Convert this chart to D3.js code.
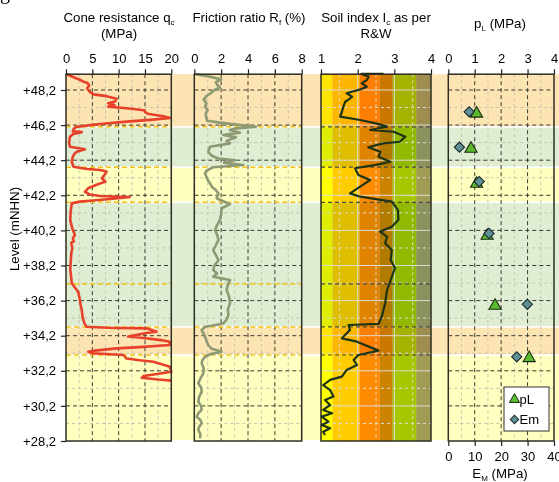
<!DOCTYPE html>
<html><head><meta charset="utf-8">
<script src="https://cdn.jsdelivr.net/npm/d3@7"></script>
<style>
body{margin:0;background:#fff}
svg{display:block;font-family:"Liberation Sans",Arial,sans-serif}
</style>
</head><body>
<svg id="c" width="559" height="482"></svg>
<script>
// ---------------- DATA ----------------
const levelTicks = [48.2, 46.2, 44.2, 42.2, 40.2, 38.2, 36.2, 34.2, 32.2, 30.2, 28.2];
const levelMinor = [47.2, 45.2, 43.2, 41.2, 39.2, 37.2, 35.2, 33.2, 31.2, 29.2];
const qcTicks = [0, 5, 10, 15, 20];
const rfTicks = [0, 2, 4, 6, 8];
const icTicks = [1, 2, 3, 4];
const plTicks = [0, 1, 2, 3, 4];
const emTicks = [0, 10, 20, 30, 40];

// soil layers (background bands)
const bandTop    = [49.1, 46.1, 43.8, 41.8, 34.7, 33.1];
const bandBottom = [46.1, 43.8, 41.8, 34.7, 33.1, 28.2];
const bandKind   = ["sand", "clay", "silt", "clay", "sand", "silt"];
const layerBoundaries = [46.1, 43.8, 41.8, 37.15, 34.7, 33.1];

// Robertson & Wride Ic zones
const icZoneBounds = [1, 1.31, 2.05, 2.60, 2.95, 3.60, 4.0];

const qcLevel = [49.1,48.8,48.65,48.6,48.45,48.3,48.1,47.95,47.85,47.7,47.55,47.45,47.35,47.25,47.15,47.05,46.95,46.85,46.7,46.6,46.5,46.4,46.25,46.1,46.0,45.85,45.8,45.7,45.54,45.2,44.97,44.82,44.7,44.6,44.4,44.12,43.83,43.7,43.64,43.55,43.4,43.17,42.98,42.8,42.6,42.4,42.25,42.16,42.12,42.1,42.0,41.9,41.84,41.74,41.3,40.8,40.3,39.94,39.75,39.57,39.5,39.2,38.9,38.4,37.95,37.5,37.19,36.9,36.7,36.45,36.2,35.9,35.66,35.4,35.19,34.9,34.71,34.65,34.62,34.5,34.43,34.35,34.2,34.15,34.07,33.95,33.86,33.67,33.55,33.48,33.35,33.29,33.2,33.1,32.9,32.8,32.72,32.55,32.43,32.15,32.0,31.9,31.8,31.7,31.64];
const qcValue = [0.1,2.5,3.5,4.1,4.4,4.0,4.5,5.2,7.7,9.6,9.3,8.0,9.2,8.0,12.0,14.8,15.0,15.5,18.5,19.8,16.0,11.5,6.0,2.0,1.5,1.3,3.0,1.4,0.75,0.6,0.75,3.6,2.2,1.7,1.3,1.1,1.4,4.0,6.45,7.7,7.4,6.8,7.5,5.8,4.2,3.6,4.5,6.45,10.2,12.1,9.0,5.0,2.65,1.1,0.9,0.8,1.2,1.7,1.3,1.5,1.0,1.2,1.0,0.9,0.8,1.0,1.1,1.8,2.3,2.5,2.65,2.8,3.0,3.1,3.2,3.5,3.9,8.0,15.3,16.5,17.2,15.3,12.5,11.8,14.7,18.0,19.7,19.7,14.0,9.6,5.5,4.2,4.9,10.9,11.5,14.0,16.6,18.5,19.7,20.0,17.0,14.7,14.4,17.5,20.0];

const rfLevel = [49.1,48.95,48.8,48.65,48.5,48.35,48.2,48.0,47.85,47.65,47.45,47.25,47.05,46.85,46.6,46.45,46.34,46.2,46.11,46.0,45.92,45.77,45.64,45.5,45.3,45.16,44.97,44.68,44.45,44.3,44.2,44.06,43.93,43.8,43.6,43.45,43.25,43.07,42.85,42.69,42.5,42.31,42.15,42.03,41.85,41.7,41.46,41.1,40.8,40.5,40.22,39.95,39.65,39.35,39.08,38.8,38.5,38.2,37.94,37.75,37.56,37.37,37.1,36.8,36.4,36.05,35.7,35.38,35.1,34.9,34.75,34.71,34.52,34.3,34.15,33.9,33.67,33.45,33.29,33.15,33.0,32.8,32.63,32.35,32.06,31.75,31.49,31.25,31.0,30.7,30.44,30.2,29.97,29.78,29.58,29.4,29.21,29.0,28.83,28.6,28.35];
const rfValue = [0.1,1.2,2.0,1.6,1.7,1.9,1.5,1.2,0.9,0.7,0.9,0.8,1.0,0.85,0.9,0.95,1.9,3.5,4.6,3.0,2.66,3.4,2.16,3.1,2.4,2.66,1.17,1.04,1.3,1.79,3.03,2.2,3.65,1.41,0.9,0.8,0.9,1.0,1.2,1.3,1.6,1.79,1.7,1.67,2.2,2.66,2.04,2.0,1.9,1.7,1.54,1.7,1.8,1.6,1.41,1.6,1.8,1.5,1.41,1.7,1.41,2.66,2.5,2.41,2.6,2.66,2.5,2.54,2.4,2.16,1.2,0.8,0.55,0.7,0.8,0.9,1.04,1.3,2.04,1.2,0.8,0.6,0.55,0.7,0.67,0.45,0.3,0.5,0.55,0.35,0.3,0.5,0.55,0.3,0.18,0.45,0.55,0.35,0.3,0.45,0.43];

const icLevel = [49.12,49.12,48.96,48.77,48.58,48.39,48.25,48.1,48.01,47.82,47.65,47.53,47.25,46.96,46.68,46.49,46.3,46.11,45.92,45.82,45.54,45.25,45.16,44.94,44.68,44.4,44.11,43.93,43.74,43.36,43.07,42.69,42.31,42.12,41.84,41.36,40.79,40.41,40.13,39.84,39.46,39.08,38.51,38.04,37.85,37.37,36.8,36.05,35.29,34.87,34.81,34.52,34.05,33.86,33.35,33.1,32.82,32.53,32.25,31.87,31.68,31.39,31.1,30.73,30.54,30.25,29.97,29.78,29.59,29.3,29.11,28.92,28.73,28.54];
const icValue = [2.71,2.1,2.3,2.25,2.11,2.25,2.1,1.84,1.70,1.85,1.75,1.66,1.61,1.57,1.52,2.07,2.5,2.8,2.34,2.98,3.3,3.15,2.7,2.29,2.62,2.57,2.89,2.5,1.93,2.02,2.34,2.07,1.79,2.07,2.93,3.1,3.11,2.93,2.61,2.8,2.75,2.93,2.9,3.02,2.98,2.9,2.8,2.75,2.66,2.57,1.75,1.79,1.57,1.98,2.57,2.02,1.89,1.98,1.70,1.57,1.25,1.06,1.25,1.34,1.11,1.25,1.06,1.3,1.02,1.2,1.02,1.25,1.06,1.11];

const pLLevel = [46.9, 44.9, 42.9, 39.94, 35.95, 32.97];
const pLValue = [1.07, 0.86, 1.07, 1.47, 1.77, 3.06];
const emLevel = [46.96, 44.94, 42.98, 40.03, 35.99, 33.0];
const emValue = [7.9, 4.2, 11.7, 15.4, 29.9, 25.9];

// ---------------- DRAWING ----------------
const svg = d3.select("#c");
const FS = 13;
const yTop = 74.2, yBot = 441;
const y = d3.scaleLinear().domain([49.1, 28.2]).range([yTop, yBot]);
const xq = d3.scaleLinear().domain([0, 20]).range([66, 171.3]);
const xr = d3.scaleLinear().domain([0, 8]).range([194.3, 301.7]);
const xi = d3.scaleLinear().domain([1, 4]).range([321, 431]);
const xp = d3.scaleLinear().domain([0, 4]).range([448.3, 554]);
const xe = d3.scaleLinear().domain([0, 40]).range([448.3, 554]);

const bandColor = {sand: "#fde5b3", clay: "#dfeed3", silt: "#ffffbf"};
const zoneColor = ["#ffff00", "#ffcc00", "#ff8c00", "#cc8400", "#a6c600", "#a09c70"];

// partial letter at the corner
svg.append("text").attr("x", 0).attr("y", -1).attr("font-family", "Liberation Serif")
  .attr("font-size", 20).text("g");

// bands
const bands = d3.range(bandTop.length).map(i => ({t: bandTop[i], b: bandBottom[i], k: bandKind[i]}));
svg.append("g").selectAll("rect").data(bands).join("rect")
  .attr("x", 66).attr("width", 559 - 66)
  .attr("y", d => y(d.t) + (d.t < 49 ? 0.8 : 0))
  .attr("height", d => y(d.b) - y(d.t) - (d.t < 49 ? 0.8 : 0) - 0.8)
  .attr("fill", d => bandColor[d.k]);

// Ic zones (multiplied over bands)
const zones = d3.range(icZoneBounds.length - 1).map(i => ({a: icZoneBounds[i], b: icZoneBounds[i + 1], c: zoneColor[i]}));
svg.append("g").selectAll("rect").data(zones).join("rect")
  .attr("x", d => xi(d.a)).attr("width", d => xi(d.b) - xi(d.a))
  .attr("y", yTop).attr("height", yBot - yTop)
  .attr("fill", d => d.c).style("mix-blend-mode", "multiply");

function grid(xs, vMajor, vMinor, majCol, minCol, solidMajor) {
  const g = svg.append("g");
  const [x0, x1] = xs.range();
  g.selectAll(".hm").data(levelMinor).join("line").attr("class", "hm")
    .attr("x1", x0).attr("x2", x1).attr("y1", d => y(d)).attr("y2", d => y(d))
    .attr("stroke", minCol).attr("stroke-dasharray", "3,3").attr("stroke-width", 1);
  g.selectAll(".vm").data(vMinor).join("line").attr("class", "vm")
    .attr("x1", d => xs(d)).attr("x2", d => xs(d)).attr("y1", yTop).attr("y2", yBot)
    .attr("stroke", minCol).attr("stroke-dasharray", "3,3").attr("stroke-width", 1);
  g.selectAll(".hM").data(levelTicks.slice(0, -1)).join("line").attr("class", "hM")
    .attr("x1", x0).attr("x2", x1).attr("y1", d => y(d)).attr("y2", d => y(d))
    .attr("stroke", majCol).attr("stroke-dasharray", solidMajor ? null : "4,3").attr("stroke-width", 1);
  g.selectAll(".vM").data(vMajor).join("line").attr("class", "vM")
    .attr("x1", d => xs(d)).attr("x2", d => xs(d)).attr("y1", yTop).attr("y2", yBot)
    .attr("stroke", majCol).attr("stroke-dasharray", solidMajor ? null : "4,3").attr("stroke-width", 1);
}
grid(xq, [5, 10, 15], [2.5, 7.5, 12.5, 17.5], "#3a3a30", "#c8c4b0", false);
grid(xr, [2, 4, 6], [1, 3, 5, 7], "#3a3a30", "#c8c4b0", false);
grid(xi, [2, 3], [1.5, 2.5, 3.5], "#dcdcd0", "#dcdcd0", true);
grid(xp, [1, 2, 3], [0.5, 1.5, 2.5, 3.5], "#3a3a30", "#c8c4b0", false);

// layer boundary lines
[xq, xr].forEach(xs => {
  svg.append("g").selectAll("line").data(layerBoundaries).join("line")
    .attr("x1", xs.range()[0]).attr("x2", xs.range()[1])
    .attr("y1", d => y(d)).attr("y2", d => y(d))
    .attr("stroke", "#f2c418").attr("stroke-width", 1.5).attr("stroke-dasharray", "5,3");
});
svg.append("g").selectAll("line").data(layerBoundaries).join("line")
  .attr("x1", xi.range()[0]).attr("x2", xi.range()[1])
  .attr("y1", d => y(d)).attr("y2", d => y(d))
  .attr("stroke", "#4a4a40").attr("stroke-width", 1.2).attr("stroke-dasharray", "4,3");

// curves
const line = (xs) => d3.line().x(d => xs(d[1])).y(d => y(d[0]));
svg.append("path").datum(d3.zip(rfLevel, rfValue)).attr("d", line(xr))
  .attr("fill", "none").attr("stroke", "#8e9a74").attr("stroke-width", 2.6).attr("stroke-linejoin", "round");
svg.append("path").datum(d3.zip(qcLevel, qcValue)).attr("d", line(xq))
  .attr("fill", "none").attr("stroke", "#e8412b").attr("stroke-width", 2.6).attr("stroke-linejoin", "round");
svg.append("path").datum(d3.zip(icLevel, icValue)).attr("d", line(xi))
  .attr("fill", "none").attr("stroke", "#1f3315").attr("stroke-width", 2.2).attr("stroke-linejoin", "round");

// frames
[xq, xr, xi, xp].forEach(xs => {
  svg.append("rect").attr("x", xs.range()[0]).attr("y", yTop)
    .attr("width", xs.range()[1] - xs.range()[0]).attr("height", yBot - yTop)
    .attr("fill", "none").attr("stroke", "#2e2e22").attr("stroke-width", 1.5);
});

// axes
function styleAxis(g) {
  g.select(".domain").remove();
  g.selectAll(".tick line").attr("stroke", "#222").attr("stroke-width", 1.2);
  g.selectAll(".tick text").attr("font-size", FS).attr("fill", "#000")
    .attr("font-family", "Liberation Sans, Arial, sans-serif");
}
[[xq, qcTicks], [xr, rfTicks], [xi, icTicks], [xp, plTicks]].forEach(([xs, tv]) => {
  svg.append("g").attr("transform", `translate(0,${yTop})`)
    .call(d3.axisTop(xs).tickValues(tv).tickSize(5).tickPadding(6).tickFormat(d3.format("d")))
    .call(styleAxis);
});
svg.append("g").attr("transform", `translate(0,${yBot})`)
  .call(d3.axisBottom(xe).tickValues(emTicks).tickSize(5).tickPadding(6).tickFormat(d3.format("d")))
  .call(styleAxis);
svg.append("g").attr("transform", `translate(66,0)`)
  .call(d3.axisLeft(y).tickValues(levelTicks).tickSize(5).tickPadding(5)
    .tickFormat(d => "+" + d.toFixed(1).replace(".", ",")))
  .call(styleAxis);

// titles
function title(x, yy, parts) {
  const t = svg.append("text").attr("x", x).attr("y", yy).attr("text-anchor", "middle")
    .attr("font-size", 13.3).attr("fill", "#000");
  parts.forEach(p => {
    const s = t.append("tspan").text(p[0]);
    if (p[1]) s.attr("font-size", 8).attr("dy", 3);
    else if (p[2]) s.attr("dy", -3);
  });
}
title(119, 21.5, [["Cone resistance q"], ["c", 1], ["", 0, 1]]);
title(119, 37.5, [["(MPa)"]]);
title(249, 21.5, [["Friction ratio R"], ["f", 1], [" (%)", 0, 1]]);
title(376, 21.5, [["Soil index I"], ["c", 1], [" as per", 0, 1]]);
title(376, 37.5, [["R&W"]]);
title(500, 28, [["p"], ["L", 1], [" (MPa)", 0, 1]]);
title(500, 478, [["E"], ["M", 1], [" (MPa)", 0, 1]]);

svg.append("text").attr("transform", "translate(19,229) rotate(-90)")
  .attr("text-anchor", "middle").attr("font-size", 13.3).text("Level (mNHN)");

// pressuremeter points
const tri = d3.symbol().type(d3.symbolTriangle).size(64);
const sq = d3.symbol().type(d3.symbolSquare).size(52);
svg.append("g").selectAll("path").data(d3.zip(pLLevel, pLValue)).join("path")
  .attr("d", tri).attr("transform", d => `translate(${xp(d[1])},${y(d[0]) + 0.8})`)
  .attr("fill", "#5cba2e").attr("stroke", "#1a2a10").attr("stroke-width", 1.1);
svg.append("g").selectAll("path").data(d3.zip(emLevel, emValue)).join("path")
  .attr("d", sq).attr("transform", d => `translate(${xe(d[1])},${y(d[0])}) rotate(45)`)
  .attr("fill", "#5f9097").attr("stroke", "#1a2a2a").attr("stroke-width", 1.1);

// legend
const lg = svg.append("g");
lg.append("rect").attr("x", 504).attr("y", 387).attr("width", 45).attr("height", 44)
  .attr("fill", "#fff").attr("stroke", "#333").attr("stroke-width", 1);
lg.append("path").attr("d", d3.symbol().type(d3.symbolTriangle).size(45))
  .attr("transform", "translate(514.5,399.5)").attr("fill", "#5cba2e").attr("stroke", "#1a2a10");
lg.append("text").attr("x", 519.5).attr("y", 403.5).attr("font-size", FS).text("pL");
lg.append("path").attr("d", d3.symbol().type(d3.symbolSquare).size(36))
  .attr("transform", "translate(514.5,419.5) rotate(45)").attr("fill", "#5f9097").attr("stroke", "#1a2a2a");
lg.append("text").attr("x", 519.5).attr("y", 424).attr("font-size", FS).text("Em");
</script>
</body></html>
